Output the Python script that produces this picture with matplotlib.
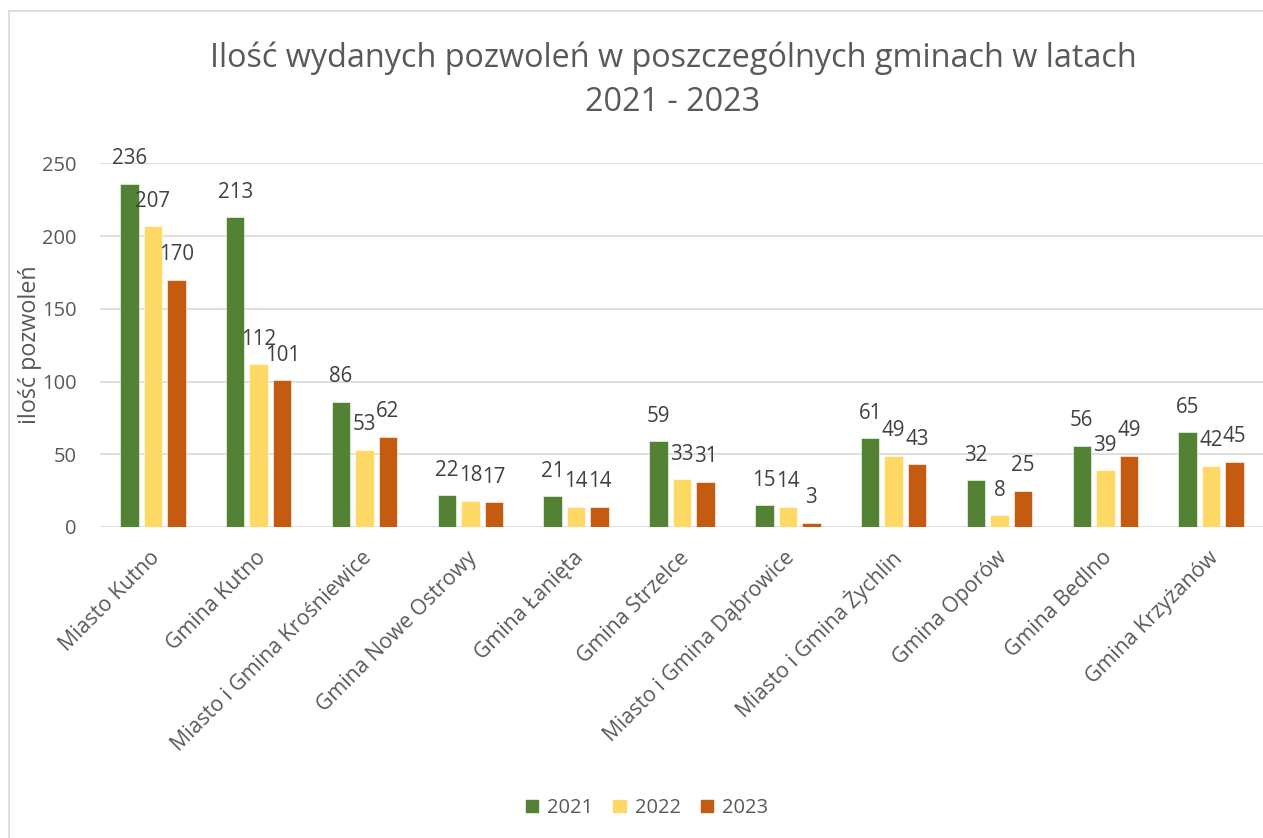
import matplotlib
matplotlib.use("Agg")
import matplotlib.pyplot as plt
import matplotlib.transforms as mtransforms
from matplotlib.patches import Rectangle
import numpy as np

categories = ["Miasto Kutno", "Gmina Kutno", "Miasto i Gmina Krośniewice",
              "Gmina Nowe Ostrowy", "Gmina Łanięta", "Gmina Strzelce",
              "Miasto i Gmina Dąbrowice", "Miasto i Gmina Żychlin",
              "Gmina Oporów", "Gmina Bedlno", "Gmina Krzyżanów"]
years = ["2021", "2022", "2023"]
v2021 = [236, 213, 86, 22, 21, 59, 15, 61, 32, 56, 65]
v2022 = [207, 112, 53, 18, 14, 33, 14, 49, 8, 39, 42]
v2023 = [170, 101, 62, 17, 14, 31, 3, 43, 25, 49, 45]
series = [v2021, v2022, v2023]
colors = ["#548235", "#FFD966", "#C55A11"]
yticks = [0, 50, 100, 150, 200, 250]

plt.rcParams['font.family'] = ['Open Sans', 'DejaVu Sans']

W, H = 1263, 838
fig = plt.figure(figsize=(W / 100, H / 100), dpi=100)
fig.patch.set_facecolor("white")

# outer chart border
fig.patches.append(Rectangle((8.5 / W, -0.02), 1.05, 1 - 11.5 / H + 0.02,
                             transform=fig.transFigure, fill=False,
                             edgecolor="#d9d9d9", linewidth=1.2))

left, right = 100 / W, 1264 / W
bottom, top = 1 - 527 / H, 1 - 163.5 / H
ax = fig.add_axes([left, bottom, right - left, top - bottom])

x = np.arange(len(categories))
bw = 0.175
step = 0.222
for i, (vals, c, yr) in enumerate(zip(series, colors, years)):
    xs = x + (i - 1) * step
    ax.bar(xs, vals, width=bw, color=c, edgecolor="white",
           linewidth=0.4, label=yr, zorder=3)
    for xi, v in zip(xs, vals):
        ax.annotate(str(v), (xi, v), xytext=(0, 18), textcoords="offset points",
                    ha="center", va="center", fontsize=14.8, color="#404040",
                    annotation_clip=False, zorder=4)

ax.set_xlim(-0.5, len(categories) - 0.5)
ax.set_ylim(0, 250)
ax.set_yticks(yticks)
ax.yaxis.grid(True, color="#d9d9d9", linewidth=1.2, zorder=0)
ax.set_axisbelow(True)
for s in ax.spines.values():
    s.set_visible(False)
ax.tick_params(axis="y", length=0, pad=17, labelsize=14.5, labelcolor="#595959")
ax.tick_params(axis="x", length=0, pad=20, labelsize=15.3, labelcolor="#595959")
ax.set_xticks(x)
ax.set_xticklabels(categories, rotation=45, ha="right", va="center",
                   rotation_mode="anchor")
offset = mtransforms.ScaledTranslation(4 / 100, 0, fig.dpi_scale_trans)
for lab in ax.get_xticklabels():
    lab.set_transform(lab.get_transform() + offset)

fig.text(673 / W, 1 - 80 / H,
         "Ilość wydanych pozwoleń w poszczególnych gminach w latach\n2021 - 2023",
         ha="center", va="center", fontsize=23.3, color="#595959", linespacing=1.43)

fig.text(30 / W, 1 - 345 / H, "ilość pozwoleń", rotation=90, ha="center",
         va="center", fontsize=16.8, color="#595959")

handles = [Rectangle((0, 0), 1, 1, color=c) for c in colors]
fig.legend(handles, years, loc="center", bbox_to_anchor=(647 / W, 1 - 808 / H),
           ncol=3, frameon=False, fontsize=14.5, handlelength=0.6,
           handleheight=0.6, handletextpad=0.45, columnspacing=1.0,
           labelcolor="#595959")

fig.savefig("out.png", dpi=100, facecolor="white")
